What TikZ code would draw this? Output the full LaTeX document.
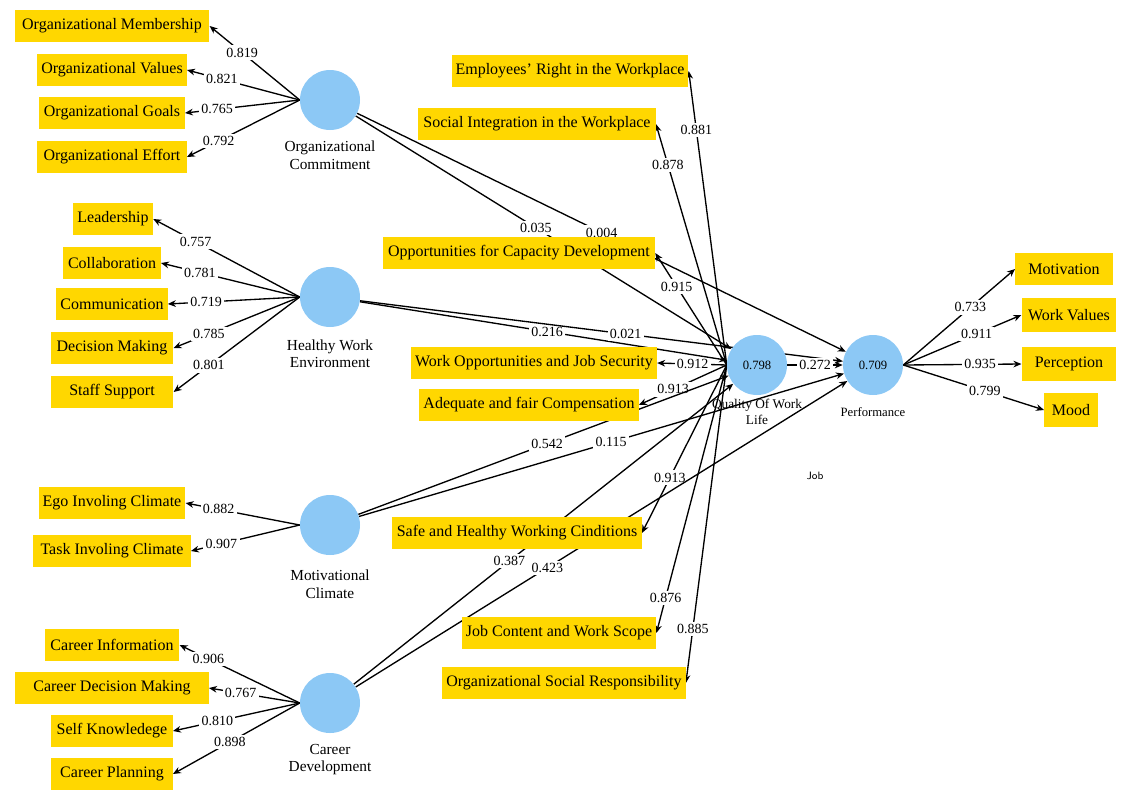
\documentclass[tikz,border=0pt]{standalone}
\usepackage{fontspec}
\setmainfont{Liberation Serif}
\usetikzlibrary{positioning,arrows.meta,backgrounds}
\definecolor{plsgold}{RGB}{255,215,0}
\definecolor{plsblue}{RGB}{140,200,245}

\begin{document}
\begin{tikzpicture}[x=0.75pt,y=-0.75pt,>={Stealth[length=6pt,width=5pt]},
    box/.style={fill=plsgold,font=\fontsize{12}{14}\selectfont,minimum height=24.5pt,inner xsep=3pt},
    lat/.style={circle,fill=plsblue,minimum size=45pt,inner sep=0pt,font=\fontsize{9.5}{11}\selectfont},
    latname/.style={align=center,font=\fontsize{11.5}{13}\selectfont,inner sep=1pt},
    coef/.style={fill=white,inner sep=1.8pt,font=\fontsize{10.5}{12}\selectfont},
    link/.style={->,line width=1pt}]
  \useasboundingbox (0,0) rectangle (1145,793);
  % latent variables
  \node[lat] (oc) at (330,100) {};
  \node[latname,below=7pt of oc] (ocname) {Organizational\\Commitment};
  \node[lat] (hwe) at (330,297) {};
  \node[latname,below=8pt of hwe] (hwename) {Healthy Work\\Environment};
  \node[lat] (mc) at (330,525) {};
  \node[latname,below=10pt of mc] (mcname) {Motivational\\Climate};
  \node[lat] (cd) at (330,703) {};
  \node[latname,below=7pt of cd] (cdname) {Career\\Development};
  \node[lat] (qwl) at (757,365) {0.798};
  \node[latname,font=\fontsize{10}{12}\selectfont,below=2pt of qwl] (qwlname) {Quality Of Work\\Life};
  \node[lat] (perf) at (873,365) {0.709};
  \node[latname,font=\fontsize{9.5}{11}\selectfont,below=8pt of perf] (perfname) {Performance};
  \node[font=\sffamily\fontsize{8}{10}\selectfont] (job) at (815,476) {Job};
  % indicators, left
  \node[box,minimum width=146pt] (om) at (112,26) {Organizational Membership};
  \node[box,minimum width=112pt] (ov) at (112,70) {Organizational Values};
  \node[box,minimum width=109pt] (og) at (112,113) {Organizational Goals};
  \node[box,minimum width=112pt] (oe) at (112,157) {Organizational Effort};
  \node[box,minimum width=60pt] (ld) at (113,219) {Leadership};
  \node[box,minimum width=73pt] (co) at (112,263) {Collaboration};
  \node[box,minimum width=83pt] (cm) at (112,304) {Communication};
  \node[box,minimum width=92pt] (dm) at (112,348) {Decision Making};
  \node[box,minimum width=92pt] (ss) at (112,392) {Staff Support};
  \node[box,minimum width=109pt] (eg) at (112,503) {Ego Involing Climate};
  \node[box,minimum width=118pt] (ti) at (112,551) {Task Involing Climate};
  \node[box,minimum width=101pt] (ci) at (112,645) {Career Information};
  \node[box,minimum width=145pt] (cdm) at (112,688) {Career Decision Making};
  \node[box,minimum width=91pt] (sk) at (112,731) {Self Knowledege};
  \node[box,minimum width=91pt] (cp) at (112,774) {Career Planning};
  % indicators, quality of work life
  \node[box,minimum width=177pt] (er) at (570,71) {Employees’ Right in the Workplace};
  \node[box,minimum width=178pt] (si) at (537,124) {Social Integration in the Workplace};
  \node[box,minimum width=204pt] (ocd) at (519,253) {Opportunities for Capacity Development};
  \node[box,minimum width=184pt] (wo) at (534,363) {Work Opportunities and Job Security};
  \node[box,minimum width=163pt] (af) at (529,405) {Adequate and fair Compensation};
  \node[box,minimum width=187pt] (sh) at (517,533) {Safe and Healthy Working Cinditions};
  \node[box,minimum width=145pt] (jc) at (559,633) {Job Content and Work Scope};
  \node[box,minimum width=181pt] (os) at (564,683) {Organizational Social Responsibility};
  % indicators, performance
  \node[box,minimum width=73pt] (mo) at (1064,269) {Motivation};
  \node[box,minimum width=71pt,minimum height=26pt] (wv) at (1069,315) {Work Values};
  \node[box,minimum width=71pt,minimum height=26pt] (pe) at (1069,364) {Perception};
  \node[box,minimum width=40pt,minimum height=26pt] (md) at (1071,410) {Mood};

  \begin{scope}[on background layer]
    \draw[link] (oc.west) -- node[coef,pos=.64] (w-om) {0.819} (om.east);
    \draw[link] (oc.west) -- node[coef,pos=.69] (w-ov) {0.821} (ov.east);
    \draw[link] (oc.west) -- node[coef,pos=.72] (w-og) {0.765} (og.east);
    \draw[link] (oc.west) -- node[coef,pos=.72] (w-oe) {0.792} (oe.east);
    \draw[link] (hwe.west) -- node[coef,pos=.71] (w-ld) {0.757} (ld.east);
    \draw[link] (hwe.west) -- node[coef,pos=.72] (w-co) {0.781} (co.east);
    \draw[link] (hwe.west) -- node[coef,pos=.71] (w-cm) {0.719} (cm.east);
    \draw[link] (hwe.west) -- node[coef,pos=.72] (w-dm) {0.785} (dm.east);
    \draw[link] (hwe.west) -- node[coef,pos=.72] (w-ss) {0.801} (ss.east);
    \draw[link] (mc.west) -- node[coef,pos=.71] (w-eg) {0.882} (eg.east);
    \draw[link] (mc.west) -- node[coef,pos=.72] (w-ti) {0.907} (ti.east);
    \draw[link] (cd.west) -- node[coef,pos=.76] (w-ci) {0.906} (ci.east);
    \draw[link] (cd.west) -- node[coef,pos=.65] (w-cdm) {0.767} (cdm.east);
    \draw[link] (cd.west) -- node[coef,pos=.65] (w-sk) {0.810} (sk.east);
    \draw[link] (cd.west) -- node[coef,pos=.55] (w-cp) {0.898} (cp.east);
    % quality of work life
    \draw[link] (qwl.west) -- node[coef,pos=.80] (w-er) {0.881} (er.east);
    \draw[link] (qwl.west) -- node[coef,pos=.83] (w-si) {0.878} (si.east);
    \draw[link] (qwl.west) -- node[coef,pos=.70] (w-ocd) {0.915} (ocd.east);
    \draw[link] (qwl.west) -- node[coef,pos=.49] (w-wo) {0.912} (wo.east);
    \draw[link] (qwl.west) -- node[coef,pos=.61] (w-af) {0.913} (af.east);
    \draw[link] (qwl.west) -- node[coef,pos=.67] (w-sh) {0.913} (sh.east);
    \draw[link] (qwl.west) -- node[coef,pos=.87] (w-jc) {0.876} (jc.east);
    \draw[link] (qwl.west) -- node[coef,pos=.83] (w-os) {0.885} (os.east);
    % performance
    \draw[link] (perf.east) -- node[coef,pos=.60] (w-mo) {0.733} (mo.west);
    \draw[link] (perf.east) -- node[coef,pos=.62] (w-wv) {0.911} (wv.west);
    \draw[link] (perf.east) -- node[coef,pos=.65] (w-pe) {0.935} (pe.west);
    \draw[link] (perf.east) -- node[coef,pos=.58] (w-md) {0.799} (md.west);
    % paths
    \draw[link] (oc) -- node[coef,pos=.48] (p-ocq) {0.035} (qwl);
    \draw[link] (oc) -- node[coef,pos=.50] (p-ocp) {0.004} (perf);
    \draw[link] (hwe) -- node[coef,pos=.51] (p-hwq) {0.216} (qwl);
    \draw[link] (hwe) -- node[coef,pos=.55] (p-hwp) {0.021} (perf);
    \draw[link] (mc) -- node[coef,pos=.51] (p-mcq) {0.542} (qwl);
    \draw[link] (mc) -- node[coef,pos=.52] (p-mcp) {0.115} (perf);
    \draw[link] (cd) -- node[coef,pos=.41] (p-cdq) {0.387} (qwl);
    \draw[link] (cd) -- node[coef,pos=.39] (p-cdp) {0.423} (perf);
    \draw[link] (qwl) -- node[coef] (p-qp) {0.272} (perf);
  \end{scope}
\end{tikzpicture}
\end{document}
